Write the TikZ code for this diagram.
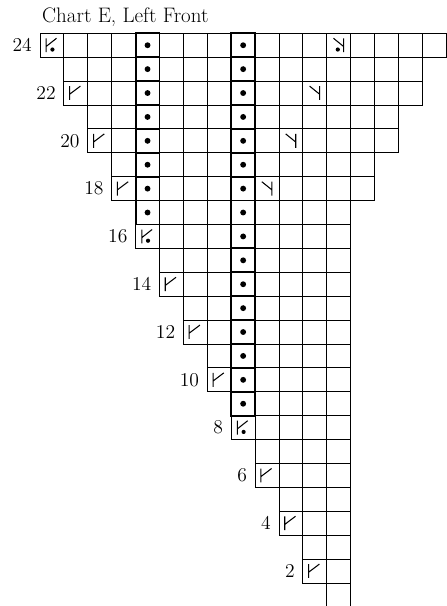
\documentclass[tikz,border=0pt]{standalone}
\usepackage{tikz}
\usetikzlibrary{positioning}
\tikzset{
  bunka/.style={draw=black,line width=0.6pt},
  bunkaP/.style={draw=black,line width=1.3pt},
  tecka/.style={fill=black},
  znak/.style={draw=black,line width=0.75pt},
  cislo/.style={inner sep=0pt,font=\fontsize{14}{16}\selectfont},
}

\begin{document}
\begin{tikzpicture}[x=0.6cm,y=0.6cm]
  \useasboundingbox (-1.674,0.037) rectangle (17.029,25.393);
  % title
  \node[anchor=base west,inner sep=0pt,font=\fontsize{15}{18}\selectfont] (nadpis) at (0.08,24.47) {Chart E, Left Front};
  % grid rows
  \foreach \r in {1,...,24}{
    \pgfmathtruncatemacro{\od}{int((27-\r)/2)}
    \pgfmathtruncatemacro{\po}{max(13,int(\r/2)+5)}
    \foreach \c in {\od,...,\po}
      \draw[bunka] (\c-1,\r-1) rectangle (\c,\r);
  }
  % purl columns
  \foreach \r in {17,...,24}{
    \draw[bunkaP] (4,\r-1) rectangle (5,\r);
    \fill[tecka] (4.5,\r-0.5) circle[radius=2.1pt];
  }
  \foreach \r in {9,...,24}{
    \draw[bunkaP] (8,\r-1) rectangle (9,\r);
    \fill[tecka] (8.5,\r-0.5) circle[radius=2.1pt];
  }
  % left increases
  \foreach \r/\c in {22/2,20/3,18/4,14/6,12/7,10/8,6/10,4/11,2/12}
    \draw[znak,shift={(\c-1,\r-1)}] (0.24,0.21) -- (0.24,0.79) (0.24,0.45) -- (0.69,0.79);
  \foreach \r/\c in {24/1,16/5,8/9}{
    \draw[znak,shift={(\c-1,\r-1)}] (0.26,0.21) -- (0.26,0.79) (0.26,0.45) -- (0.69,0.79);
    \fill[tecka,shift={(\c-1,\r-1)}] (0.52,0.32) circle[radius=1.5pt];
  }
  % right increases
  \foreach \r/\c in {22/12,20/11,18/10}
    \draw[znak,shift={(\c-1,\r-1)}] (0.7,0.21) -- (0.7,0.79) (0.28,0.79) -- (0.7,0.45);
  \draw[znak,shift={(12,23)}] (0.7,0.21) -- (0.7,0.79) (0.28,0.79) -- (0.7,0.45);
  \fill[tecka,shift={(12,23)}] (0.46,0.32) circle[radius=1.5pt];
  % row numbers
  \foreach \r/\c in {24/1,22/2,20/3,18/4,16/5,14/6,12/7,10/8,8/9,6/10,4/11,2/12}{
    \coordinate (z\r) at (\c-1,\r-0.5);
    \node[cislo,left=0.2cm of z\r] (n\r) {\r};
  }
\end{tikzpicture}
\end{document}
